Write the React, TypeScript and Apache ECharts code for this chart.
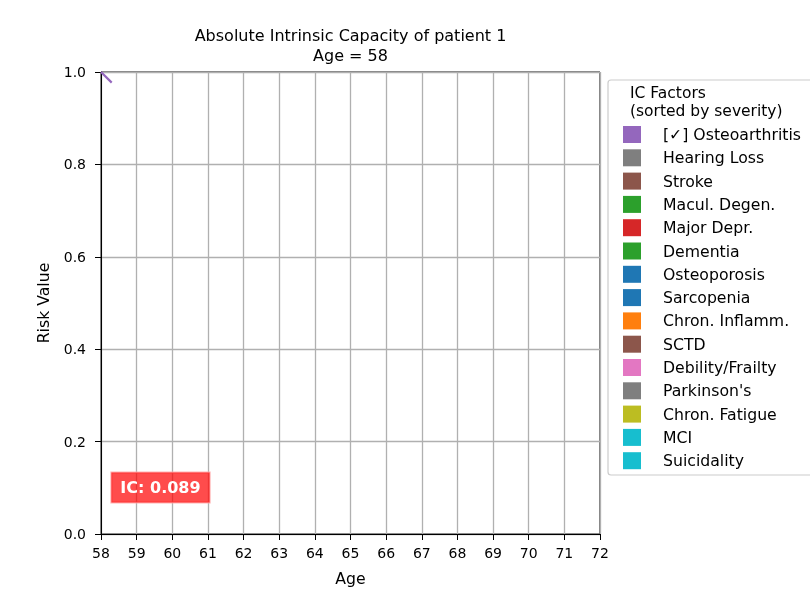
import React, { useEffect, useRef } from "react";
import * as echarts from "echarts";

const factorNames = [
  "[✓] Osteoarthritis",
  "Hearing Loss",
  "Stroke",
  "Macul. Degen.",
  "Major Depr.",
  "Dementia",
  "Osteoporosis",
  "Sarcopenia",
  "Chron. Inflamm.",
  "SCTD",
  "Debility/Frailty",
  "Parkinson's",
  "Chron. Fatigue",
  "MCI",
  "Suicidality",
];
const factorColors = [
  "#9467bd", "#7f7f7f", "#8c564b", "#2ca02c", "#d62728", "#2ca02c", "#1f77b4",
  "#1f77b4", "#ff7f0e", "#8c564b", "#e377c2", "#7f7f7f", "#bcbd22", "#17becf", "#17becf",
];
const osteoAges = [58, 58.3];
const osteoRisk = [1.0, 0.977];
const icValue = 0.089;
const patientAge = 58;

const FONT = "DejaVu Sans";

export default function App() {
  const ref = useRef<HTMLDivElement>(null);
  useEffect(() => {
    if (!ref.current) return;
    const chart = echarts.init(ref.current, null, { renderer: "svg" });
    const series: any[] = factorNames.map((name, i) => ({
      name,
      type: "line",
      color: factorColors[i],
      showSymbol: false,
      lineStyle: { width: 2.2, color: factorColors[i] },
      data: i === 0 ? osteoAges.map((a, j) => [a, osteoRisk[j]]) : [],
      z: 5,
    }));
    const txt = (text: string, x: number, y: number, size: number, align: string) => ({
      type: "text", x, y, z: 10,
      style: {
        text, fontSize: size, fontFamily: FONT, fill: "#000",
        textAlign: align, textVerticalAlign: "middle",
      },
    });
    chart.setOption({
      animation: false,
      textStyle: { fontFamily: FONT },
      grid: {
        left: 101, right: 210, top: 72, bottom: 66,
        show: true, borderColor: "#000", borderWidth: 1, backgroundColor: "transparent",
      },
      xAxis: {
        type: "value", min: 58, max: 72, interval: 1,
        name: "Age", nameLocation: "middle", nameGap: 36,
        nameTextStyle: { fontSize: 15.7, color: "#000", fontFamily: FONT },
        axisLine: { lineStyle: { color: "#000", width: 1 } },
        axisTick: { show: true, length: 6, lineStyle: { color: "#000" } },
        axisLabel: { fontSize: 14, color: "#000", margin: 12, fontFamily: FONT },
        splitLine: { show: true, lineStyle: { color: "#b0b0b0", width: 1.3 } },
      },
      yAxis: {
        type: "value", min: 0, max: 1, interval: 0.2,
        name: "Risk Value", nameLocation: "middle", nameGap: 50,
        nameTextStyle: { fontSize: 15.7, color: "#000", fontFamily: FONT },
        axisLine: { show: true, lineStyle: { color: "#000", width: 1 } },
        axisTick: { show: true, length: 6, lineStyle: { color: "#000" } },
        axisLabel: { fontSize: 14, color: "#000", margin: 15, fontFamily: FONT, formatter: (v: number) => v.toFixed(1) },
        splitLine: { show: true, lineStyle: { color: "#b0b0b0", width: 1.3 } },
      },
      legend: {
        orient: "vertical",
        left: 623, top: 126, padding: 0,
        itemWidth: 18, itemHeight: 17, itemGap: 6.3,
        icon: "rect",
        selectedMode: false,
        data: factorNames.map((n, i) => ({ name: n, itemStyle: { color: factorColors[i] } })),
        textStyle: { fontSize: 15.7, color: "#000", fontFamily: FONT, padding: [0, 0, 0, 17] },
        z: 5,
      },
      graphic: [
        txt("Absolute Intrinsic Capacity of patient 1", 350.5, 35.5, 16, "center"),
        txt("Age = " + patientAge, 350.5, 55, 16, "center"),
        {
          type: "rect", z: 1,
          shape: { x: 608, y: 80, width: 220, height: 395, r: 3 },
          style: { fill: "rgba(255,255,255,0.8)", stroke: "#cccccc", lineWidth: 1.2 },
        },
        txt("IC Factors", 630, 92.5, 15.5, "left"),
        txt("(sorted by severity)", 630, 111.3, 15.5, "left"),
        {
          type: "text", x: 160.5, y: 487.5, z: 10,
          style: {
            text: "IC: " + icValue.toFixed(3),
            fontSize: 16, fontWeight: "bold", fontFamily: FONT, fill: "#fff",
            textAlign: "center", textVerticalAlign: "middle",
            backgroundColor: "rgba(255,0,0,0.7)", padding: [7, 9, 7, 9],
            borderColor: "rgba(255,170,170,0.9)", borderWidth: 1,
          },
        },
      ],
      series,
    });
    return () => chart.dispose();
  }, []);
  return <div ref={ref} style={{ position: "fixed", left: 0, top: 0, width: 810, height: 600 }} />;
}
